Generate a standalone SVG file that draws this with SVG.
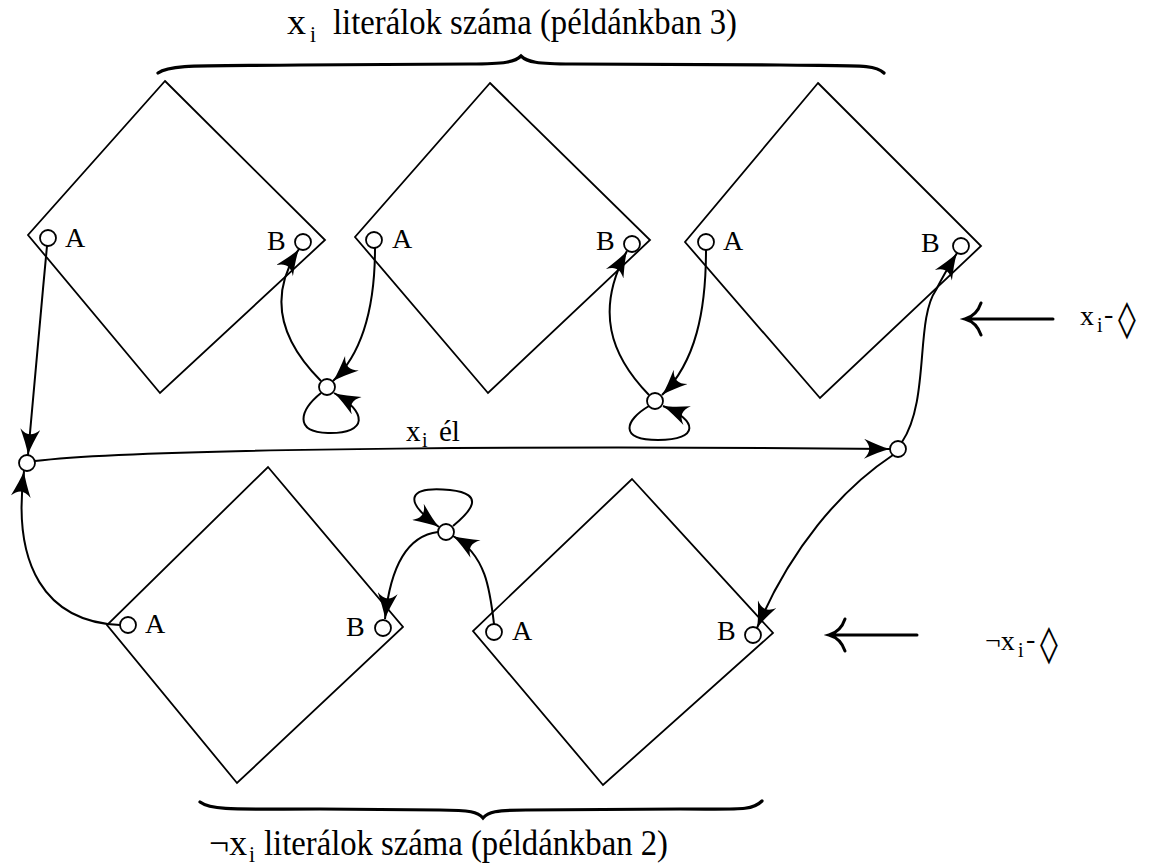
<svg xmlns="http://www.w3.org/2000/svg" width="1151" height="866" viewBox="0 0 1151 866">
<defs>
<style>
.d{fill:none;stroke:#000;stroke-width:1.8;stroke-linejoin:miter}
.n{fill:#fff;stroke:#000;stroke-width:1.8}
.e{fill:none;stroke:#000;stroke-width:2;marker-end:url(#ah)}
.t{font-family:"Liberation Serif","Times New Roman",serif;fill:#000}
.loz{font-family:"DejaVu Sans","Liberation Serif",sans-serif;fill:#000}
.br{fill:none;stroke:#000;stroke-width:3.2;stroke-linecap:round}
.la{fill:none;stroke:#000;stroke-width:3;stroke-linecap:round}
</style>
<marker id="ah" markerUnits="userSpaceOnUse" viewBox="0 0 28 20" markerWidth="28" markerHeight="20" refX="27" refY="10" orient="auto">
<path d="M27,10 C19,8 10,4 1,0 C8,7 8,13 1,20 C10,16 19,12 27,10 Z" fill="#000"/>
</marker>
</defs>
<rect width="1151" height="866" fill="#fff"/>

<g id="title-top">
<text class="t" x="287" y="34" font-size="36" textLength="19" lengthAdjust="spacingAndGlyphs">x</text>
<text class="t" x="310" y="42" font-size="24" textLength="6" lengthAdjust="spacingAndGlyphs">i</text>
<text class="t" x="333" y="34" font-size="36" textLength="404" lengthAdjust="spacingAndGlyphs">literálok száma (példánkban 3)</text>
<path class="br" d="M158,73 C170,64 200,66 300,65 L470,64 C505,64 515,62 521,56 C527,62 537,64 572,64 L780,65 C860,66 875,64 884,73"/>
</g>

<g id="title-bottom">
<text class="t" x="209" y="855" font-size="36" textLength="38" lengthAdjust="spacingAndGlyphs">¬x</text>
<text class="t" x="249" y="862" font-size="24" textLength="6" lengthAdjust="spacingAndGlyphs">i</text>
<text class="t" x="264" y="855" font-size="36" textLength="404" lengthAdjust="spacingAndGlyphs">literálok száma (példánkban 2)</text>
<path class="br" d="M200,802 C212,811 240,809 320,809 L440,810 C470,810 478,812 483,818 C488,812 496,810 526,810 L680,809 C740,809 752,811 762,801"/>
</g>

<g id="diamond1"><polygon class="d" points="165,81 325,240 160,393 28,235"/></g>
<g id="diamond2"><polygon class="d" points="490,83 650,240 488,393 355,237"/></g>
<g id="diamond3"><polygon class="d" points="818,83 981,246 820,398 685,242"/></g>
<g id="diamond4"><polygon class="d" points="268,467 403,627 237,783 107,625"/></g>
<g id="diamond5"><polygon class="d" points="632,479 773,633 603,785 473,631"/></g>

<g id="connectors">
<path class="e" d="M47,246 C40,320 33,400 28,455"/>
<path class="e" d="M120,625 C45,622 12,565 24,471"/>
<path class="e" d="M35,461 C150,447 600,446 890,449"/>
<path class="e" d="M902,442 C930,400 915,320 936,290 C942,278 949,266 957,253"/>
<path class="e" d="M893,455 C840,490 790,550 757,628"/>
<path class="e" d="M375,248 C375,300 366,350 333,381"/>
<path class="e" d="M321,381 C285,345 265,300 299,249"/>
<path class="e" d="M321,393 C300,410 293,432 328,433 C368,434 368,412 334,393"/>
<path class="e" d="M706,250 C706,310 696,362 662,395"/>
<path class="e" d="M649,395 C610,355 595,310 627,251"/>
<path class="e" d="M649,406 C625,420 618,440 658,440 C700,440 698,420 663,406"/>
<path class="e" d="M494,624 C490,590 486,555 453,536"/>
<path class="e" d="M438,532 C405,536 390,570 385,619"/>
<path class="e" d="M453,526 C470,512 487,494 450,490 C410,486 400,499 439,527"/>
</g>

<g id="nodes">
<g id="n-a1"><circle class="n" cx="48" cy="238" r="8"/><text class="t" x="65" y="247" font-size="28">A</text></g>
<g id="n-b1"><circle class="n" cx="303" cy="242" r="8"/><text class="t" x="267" y="250" font-size="28">B</text></g>
<g id="n-a2"><circle class="n" cx="374" cy="240" r="8"/><text class="t" x="392" y="248" font-size="28">A</text></g>
<g id="n-b2"><circle class="n" cx="632" cy="244" r="8"/><text class="t" x="596" y="250" font-size="28">B</text></g>
<g id="n-a3"><circle class="n" cx="706" cy="242" r="8"/><text class="t" x="723" y="250" font-size="28">A</text></g>
<g id="n-b3"><circle class="n" cx="961" cy="246" r="8"/><text class="t" x="921" y="252" font-size="28">B</text></g>
<g id="n-a4"><circle class="n" cx="128" cy="625" r="8"/><text class="t" x="145" y="633" font-size="28">A</text></g>
<g id="n-b4"><circle class="n" cx="383" cy="628" r="8"/><text class="t" x="346" y="636" font-size="28">B</text></g>
<g id="n-a5"><circle class="n" cx="494" cy="632" r="8"/><text class="t" x="512" y="640" font-size="28">A</text></g>
<g id="n-b5"><circle class="n" cx="753" cy="635" r="8"/><text class="t" x="717" y="640" font-size="28">B</text></g>
<g id="n-left"><circle class="n" cx="27" cy="463" r="8"/></g>
<g id="n-right"><circle class="n" cx="898" cy="449" r="8"/></g>
<g id="n-loop1"><circle class="n" cx="327" cy="387" r="8"/></g>
<g id="n-loop2"><circle class="n" cx="655" cy="401" r="8"/></g>
<g id="n-loop3"><circle class="n" cx="446" cy="532" r="8"/></g>
</g>

<g id="edge-label">
<text class="t" x="406" y="441" font-size="29">x</text>
<text class="t" x="422" y="447" font-size="20">i</text>
<text class="t" x="439" y="441" font-size="29">él</text>
</g>

<g id="label-xi">
<path class="la" d="M1053,319 L966,319 M981,303 C978,312 972,317 965,319 C972,321 978,326 981,335"/>
<text class="t" x="1080" y="325" font-size="28">x</text>
<text class="t" x="1097" y="332" font-size="20">i</text>
<text class="t" x="1104" y="323" font-size="28">-</text>
<text class="loz" x="1118" y="331" font-size="36">◊</text>
</g>

<g id="label-nxi">
<path class="la" d="M917,635 L830,635 M845,619 C842,628 836,633 829,635 C836,637 842,642 845,651"/>
<text class="t" x="985" y="650" font-size="28">¬x</text>
<text class="t" x="1018" y="657" font-size="20">i</text>
<text class="t" x="1026" y="648" font-size="28">-</text>
<text class="loz" x="1040" y="656" font-size="36">◊</text>
</g>
</svg>
